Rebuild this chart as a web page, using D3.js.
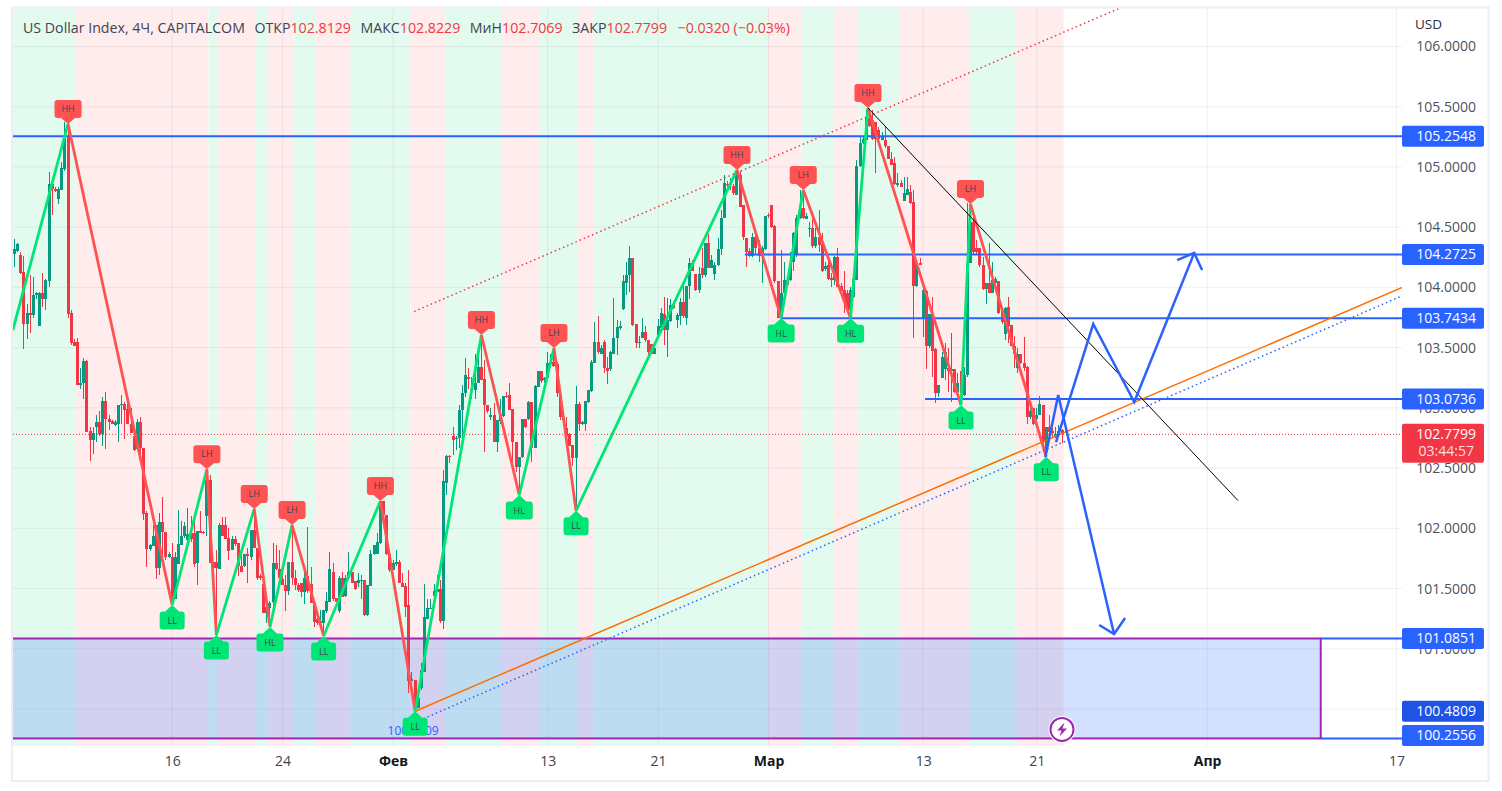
<!DOCTYPE html>
<html>
<head>
<meta charset="utf-8">
<style>
  html, body { margin: 0; background: #fff; }
  svg { display: block; }
  text { font-family: "Open Sans", sans-serif; }
</style>
<script src="https://cdn.jsdelivr.net/npm/d3@7"></script>
</head>
<body>
<div id="chart"></div>
<script>
// candles are [open, high, low, close], in bar order
const barsJanA = [
[104.28,104.40,104.17,104.32],[104.30,104.37,104.29,104.36],[104.27,104.29,104.11,104.12],[104.13,104.26,103.49,103.70],
[103.70,103.86,103.57,103.79],[103.79,104.10,103.62,103.77],[103.77,104.09,103.75,103.94],[103.94,103.96,103.90,103.95],
[103.68,103.96,103.68,103.95],[103.95,104.12,103.84,103.90],[103.90,104.07,103.81,104.06],[104.05,104.96,104.00,104.86],
[104.86,104.87,104.60,104.82],[104.82,104.83,104.79,104.80],[104.73,104.83,104.69,104.82],[104.81,105.04,104.81,104.99],
[104.98,105.37,104.97,105.24],[105.26,105.37,103.75,103.78],[103.79,103.81,103.52,103.54],[103.55,103.57,103.51,103.51],
[103.55,103.58,103.19,103.19],[103.19,103.33,103.16,103.21],[103.21,103.41,103.07,103.39],[103.39,103.40,102.80,102.80],
[102.81,102.84,102.56,102.73],[102.73,102.84,102.62,102.79],[102.84,102.94,102.72,102.88],[102.88,102.97,102.77,102.78],
[102.78,103.09,102.68,103.06],[103.06,103.13,102.66,102.91],[102.91,102.94,102.82,102.88],[102.89,102.90,102.87,102.87],
[102.86,102.90,102.85,102.88],[102.87,103.02,102.72,103.02],[103.02,103.11,102.87,103.03],[103.03,103.05,102.74,102.98],
[102.99,103.07,102.87,102.87],[102.87,103.00,102.79,102.79],[102.77,102.86,102.64,102.65],[102.66,102.91,102.64,102.88],
[102.88,102.92,102.62,102.67],[102.67,102.67,102.07,102.12]
];
const barsJanB = [
[102.13,102.14,101.68,101.83],[101.83,101.87,101.81,101.86],[101.85,102.03,101.85,101.94],[102.03,102.03,101.58,101.67],
[101.67,102.13,101.61,102.05],[102.05,102.26,101.74,101.97],[101.97,101.97,101.74,101.76],[101.76,101.80,101.75,101.79],
[101.76,101.88,101.38,101.41],[101.41,101.80,101.41,101.76],[101.70,102.15,101.70,101.87],[101.86,102.06,101.86,101.94],
[101.94,102.05,101.92,102.02],[101.90,102.17,101.89,101.95],[101.96,102.10,101.89,101.91],[101.96,102.13,101.68,101.70],
[101.71,101.98,101.53,101.98],[101.98,102.14,101.96,101.96],[101.97,101.98,101.95,101.96],[102.10,102.48,101.94,102.40],
[102.40,102.44,101.71,101.71],[101.72,101.72,101.67,101.67],[101.72,101.82,101.11,101.67],[101.66,102.04,101.66,102.03],
[102.03,102.09,101.94,101.94],[102.03,102.09,101.91,101.91],[101.92,102.00,101.74,101.81],[101.82,101.94,101.82,101.91],
[101.91,101.94,101.85,101.87],[101.88,101.88,101.60,101.69],[101.69,101.84,101.64,101.64],[101.69,101.79,101.68,101.79],
[101.79,101.84,101.55,101.77],[101.76,101.99,101.74,101.99],[101.99,102.17,101.84,101.84],[101.84,101.84,101.57,101.59],
[101.60,101.62,101.57,101.59],[101.54,101.54,101.30,101.30],[101.30,101.43,101.21,101.35],[101.34,101.40,101.18,101.38],
[101.39,101.88,101.30,101.71],[101.71,101.86,101.65,101.66],[101.66,101.82,101.59,101.59]
];
const barsJanC = [
[101.58,101.68,101.53,101.53],[101.53,101.61,101.31,101.48],[101.48,101.72,101.45,101.72],[101.72,102.03,101.53,101.59],
[101.59,101.65,101.49,101.53],[101.53,101.55,101.47,101.49],[101.55,101.55,101.43,101.47],[101.47,101.64,101.37,101.59],
[101.60,102.01,101.46,101.48],[101.54,101.68,101.38,101.38],[101.38,101.38,101.18,101.22],[101.25,101.27,101.20,101.21],
[101.21,101.32,101.20,101.23],[101.21,101.32,101.11,101.32],[101.31,101.47,101.30,101.40],[101.39,101.80,101.39,101.66],
[101.64,101.71,101.40,101.41],[101.42,101.42,101.39,101.39],[101.31,101.60,101.30,101.59],[101.59,101.64,101.43,101.43],
[101.44,101.61,101.43,101.59],[101.59,101.80,101.59,101.64],[101.64,101.64,101.55,101.55],[101.56,101.56,101.49,101.50],
[101.55,101.63,101.51,101.57],[101.56,101.61,101.41,101.57],[101.57,101.57,101.27,101.28],[101.28,101.53,101.27,101.53],
[101.52,101.82,101.52,101.79],[101.79,101.86,101.78,101.86],[101.79,101.96,101.79,101.89],[101.88,102.23,101.87,102.23],
[102.23,102.23,102.11,102.11],[102.11,102.11,101.78,101.79],[101.79,101.79,101.64,101.65]
];
const barsFebA = [
[101.65,101.74,101.65,101.71],[101.70,101.82,101.69,101.72],[101.72,101.74,101.55,101.55],[101.55,101.63,101.51,101.51],
[101.52,101.55,101.26,101.35],[101.36,101.65,100.63,100.73],[100.73,100.81,100.73,100.75],[100.74,100.74,100.48,100.50],
[100.51,100.67,100.51,100.59],[100.67,100.88,100.66,100.82],[100.81,101.54,100.81,101.26],[101.25,101.41,101.25,101.34],
[101.33,101.41,101.33,101.34],[101.44,101.54,101.35,101.48],[101.47,101.61,101.47,101.50],[101.50,101.57,101.21,101.23],
[101.23,102.48,101.16,102.39],[102.38,102.61,102.28,102.60],[102.60,102.61,102.54,102.59],[102.77,102.84,102.61,102.73],
[102.74,102.77,102.65,102.75],[102.75,103.02,102.67,102.98],[102.98,103.19,102.75,103.12],[103.12,103.41,103.09,103.27],
[103.26,103.33,103.16,103.24],[103.16,103.26,103.07,103.15],[103.15,103.45,103.07,103.21],[103.21,103.45,103.21,103.34],
[103.34,103.60,103.23,103.23],[103.24,103.40,102.63,103.02],[103.02,103.02,102.96,102.97],[102.92,103.00,102.90,102.94],
[102.94,103.04,102.72,102.72],[102.72,102.90,102.63,102.90],[102.89,103.07,102.87,102.94],[102.93,103.10,102.92,103.10],
[103.10,103.13,103.08,103.09],[103.11,103.21,102.98,102.98],[102.99,102.99,102.51,102.72],[102.72,102.72,102.47,102.51],
[102.51,102.59,102.28,102.59],[102.59,102.91,102.58,102.91],[102.91,102.91,102.83,102.84],[102.91,103.06,102.90,103.05],
[103.05,103.05,102.55,102.67],[102.67,103.19,102.67,103.18],[103.17,103.31,103.17,103.31],[103.31,103.31,103.21,103.22],
[103.23,103.26,103.21,103.25]
];
const barsFebB = [
[103.25,103.46,103.24,103.37],[103.36,103.45,103.36,103.38],[103.38,103.50,103.34,103.35],[103.36,103.38,103.09,103.12],
[103.11,103.12,102.90,102.92],[102.90,102.92,102.90,102.92],[102.83,102.92,102.77,102.77],[102.78,102.79,102.68,102.68],
[102.69,102.69,102.52,102.58],[102.58,103.18,102.15,103.03],[103.03,103.05,102.81,102.87],[102.87,102.89,102.86,102.88],
[102.87,103.06,102.81,103.06],[103.05,103.15,103.04,103.15],[103.14,103.40,103.13,103.38],[103.37,103.71,103.37,103.55],
[103.55,103.76,103.45,103.46],[103.45,103.52,103.45,103.50],[103.55,103.56,103.29,103.33],[103.33,103.42,103.20,103.31],
[103.32,103.47,103.31,103.46],[103.45,103.91,103.45,103.58],[103.58,103.73,103.44,103.67],[103.66,103.72,103.65,103.68],
[103.82,104.10,103.81,104.05],[104.04,104.21,103.94,104.10],[104.10,104.34,103.96,104.24],[104.24,104.24,103.68,103.69],
[103.70,103.70,103.50,103.54],[103.54,103.60,103.50,103.55],[103.58,103.75,103.58,103.63],[103.63,103.68,103.55,103.56],
[103.56,103.56,103.42,103.46],[103.53,103.53,103.45,103.45],[103.45,103.53,103.45,103.50],[103.60,103.74,103.59,103.68],
[103.66,103.83,103.65,103.79],[103.78,103.92,103.52,103.65],[103.65,103.91,103.42,103.73],[103.72,103.90,103.71,103.85],
[103.85,103.85,103.82,103.83],[103.73,103.79,103.66,103.77],[103.76,103.91,103.69,103.88],[103.88,104.01,103.75,103.76],
[103.75,104.01,103.69,104.01],[104.01,104.24,103.90,104.20],[104.20,104.23,104.14,104.14],[104.11,104.11,103.97,103.98],
[103.98,104.17,103.95,104.11],[104.16,104.33,104.08,104.10],[104.10,104.37,104.09,104.37],[104.37,104.44,104.16,104.16],
[104.16,104.27,104.16,104.23],[104.11,104.21,104.06,104.19],[104.19,104.41,104.18,104.32],[104.32,104.64,104.27,104.58],
[104.58,104.93,104.58,104.87],[104.86,104.88,104.83,104.85],[104.85,104.91,104.81,104.87],[104.84,104.86,104.77,104.78],
[104.77,104.97,104.77,104.93],[104.93,104.97,104.67,104.67],[104.68,104.68,104.39,104.42],[104.41,104.41,104.17,104.29],
[104.30,104.33,104.25,104.26],[104.26,104.45,104.25,104.42],[104.42,104.45,104.27,104.33],[104.33,104.39,104.21,104.26],
[104.26,104.34,104.04,104.33],[104.32,104.59,104.31,104.59]
];
const barsMarA = [
[104.60,104.62,104.58,104.59],[104.68,104.68,104.49,104.50],[104.51,104.52,104.04,104.05],[104.05,104.05,103.75,103.75],
[103.75,104.31,103.75,103.95],[103.95,104.21,103.95,104.06],[104.06,104.07,104.01,104.02],[104.06,104.29,104.05,104.20],
[104.21,104.46,104.14,104.45],[104.27,104.60,104.25,104.58],[104.58,104.81,104.57,104.66],[104.66,104.81,104.57,104.58],
[104.57,104.62,104.57,104.59],[104.49,104.54,104.42,104.49],[104.49,104.62,104.33,104.34],[104.34,104.49,104.33,104.42],
[104.42,104.64,104.29,104.35],[104.36,104.45,104.13,104.14],[104.15,104.21,104.14,104.18],[104.19,104.27,104.06,104.07],
[104.08,104.12,104.00,104.06],[104.06,104.26,104.02,104.25],[104.25,104.33,104.00,104.00],[104.01,104.04,103.94,103.97],
[103.98,104.14,103.79,103.88],[103.95,103.98,103.80,103.81],[103.81,104.00,103.75,103.98],[103.92,104.13,103.91,104.07],
[104.06,105.06,104.06,105.01],[105.01,105.25,105.00,105.20],[105.20,105.25,105.19,105.23],[105.22,105.47,105.22,105.41],
[105.41,105.47,105.33,105.34],[105.39,105.47,105.22,105.23],[105.37,105.37,104.95,105.23],[105.31,105.33,105.22,105.23],
[105.22,105.29,105.22,105.25],[105.22,105.33,105.16,105.17],[105.17,105.17,105.07,105.07],[105.07,105.12,105.02,105.02],
[105.03,105.08,104.85,104.86],[104.85,104.95,104.83,104.87],[104.87,104.89,104.83,104.83],[104.72,104.92,104.72,104.78],
[104.77,104.92,104.77,104.82],[104.79,104.85,104.69,104.70],[104.71,104.81,103.58,104.01],[104.01,104.23,104.00,104.20],
[104.20,104.24,104.19,104.19]
];
const barsMarB = [
[103.74,104.02,103.59,103.98],[103.97,103.98,103.32,103.51],[103.51,103.78,103.50,103.78],[103.78,103.92,103.26,103.47],
[103.49,103.50,103.04,103.12],[103.12,103.19,103.09,103.19],[103.25,103.46,103.25,103.42],[103.32,103.54,103.23,103.46],
[103.33,103.50,103.13,103.31],[103.31,103.62,103.05,103.32],[103.32,103.32,103.12,103.13],[103.13,103.29,103.12,103.21],
[103.31,103.31,103.02,103.12],[103.11,103.34,103.10,103.27],[103.27,104.70,103.26,104.20],[104.20,104.70,104.20,104.54],
[104.54,104.62,104.28,104.29],[104.33,104.39,104.28,104.29],[104.33,104.33,104.17,104.19],[104.19,104.25,103.98,103.99],
[103.99,104.04,103.86,104.04],[104.04,104.37,103.95,103.95],[103.95,104.21,103.95,104.06],[104.04,104.09,104.03,104.07],
[104.05,104.05,103.78,103.79],[103.80,103.82,103.70,103.71],[103.61,103.84,103.56,103.83],[103.84,103.92,103.54,103.68],
[103.69,103.69,103.51,103.51],[103.51,103.60,103.33,103.45],[103.33,103.50,103.29,103.45],[103.45,103.45,103.36,103.37],
[103.37,103.59,103.31,103.33],[103.34,103.35,102.87,102.92],[102.92,103.04,102.91,102.97],[103.00,103.00,102.86,102.87],
[102.91,103.00,102.86,102.94],[102.94,103.10,102.94,103.03],[103.02,103.02,102.67,102.72],[102.63,102.84,102.59,102.84],
[102.84,102.94,102.78,102.80],[102.81,102.83,102.76,102.79],[102.76,102.84,102.75,102.78],[102.78,102.86,102.76,102.81],
[102.8129,102.8229,102.7069,102.7799]
];

// background regimes, alternating green / red between these bars
const bandEdges = [-0.5,19.5,61.5,64.5,76.5,80.5,88.5,95.5,106.5,125.5,136.5,154.5,166.5,178.5,183.5,238.5,249.5,259.5,267.5,280.5,302.5,317.5,332.5];

// zigzag pivots
const pivotBars   = [-0.5,17,50,61,64,76,81,88,98,116,127,148,160,171,178,229,243,250,265,270.5,300,303,327];
const pivotPrices = [103.646,105.357,101.363,102.49,101.114,102.16,101.18,102.027,101.106,102.227,100.4809,103.605,102.276,103.497,102.146,104.975,103.746,104.809,103.743,105.489,103.024,104.692,102.594];
const pivotLabels = ["","HH","LL","LH","LL","LH","HL","LH","LL","HH","LL","HH","HL","LH","LL","HH","HL","LH","HL","HH","LL","LH","LL"];

// horizontal levels: price and the bar where they begin
const levelPrices = [105.2548,104.2725,103.7434,103.0736];
const levelStarts = [-0.5,231.5,243,288.6];

const zoneTop = 101.0851;
const zoneBottom = 100.2556;
const zoneEndBar = 414;
const lowPrice = 100.4809;

const priceTicks = [106,105.5,105,104.5,104,103.5,103,102.5,102,101.5,101,100.5];
const timeTickBars = [50,85,120,169,204,239,288,324,378,438];
const timeTickLabels = ["16","24","Фев","13","21","Мар","13","21","Апр","17"];
const monthLabels = ["Фев","Мар","Апр"];

// drawn lines: [bar, price] vertices
const orangeTrend = [[127,100.4809],[439.8,104.0]];
const blueTrend = [[127,100.39],[439.8,103.93]];
const redChannel = [[126.7,103.80],[350.4,106.32]];
const blackTrend = [[270.5,105.49],[387.8,102.23]];
const downPath = [[326.7,102.59],[330.8,103.107],[348.5,101.122]];
const downHead = [[343.8,101.197],[348.5,101.122],[352,101.255]];
const upPath = [[330.1,102.716],[341.9,103.696],[354.9,103.048],[373.9,104.286]];
const upHead = [[368.5,104.227],[373.9,104.286],[376.4,104.144]];

const lastPrice = 102.7799;
const countdown = "03:44:57";
const headerTitle = "US Dollar Index, 4Ч, CAPITALCOM";
const headerNames = ["ОТКР","МАКС","МиН","ЗАКР"];
const headerValues = ["102.8129","102.8229","102.7069","102.7799"];
const headerChange = "−0.0320 (−0.03%)";

const svgWidth = 1502;
const svgHeight = 791;
const plot = { left: 13, right: 1402, top: 8, bottom: 746 };

const green = "#089981", red = "#f23645", blue = "#2962ff", purple = "#9c27b0";

const candles = [...barsJanA, ...barsJanB, ...barsJanC, ...barsFebA, ...barsFebB, ...barsMarA, ...barsMarB];

const x = d3.scaleLinear().domain([0, candles.length - 1]).range([14.4, 1062]);
const y = d3.scaleLinear().domain([106, 100]).range([46.5, 769.2]);

const svg = d3.select("#chart").append("svg")
  .attr("width", svgWidth)
  .attr("height", svgHeight);

svg.append("clipPath").attr("id", "plotClip").append("rect")
  .attr("x", plot.left).attr("y", plot.top)
  .attr("width", plot.right - plot.left).attr("height", plot.bottom - plot.top);

const chart = svg.append("g").attr("clip-path", "url(#plotClip)");

// regime bands
chart.selectAll("rect.band")
  .data(d3.pairs(bandEdges))
  .enter().append("rect")
  .attr("class", "band")
  .attr("x", d => x(d[0]))
  .attr("y", plot.top)
  .attr("width", d => x(d[1]) - x(d[0]))
  .attr("height", plot.bottom - plot.top)
  .attr("fill", (d, i) => i % 2 ? "#ffecec" : "#e3fbef");

// grid
chart.selectAll("line.hgrid")
  .data(priceTicks)
  .enter().append("line")
  .attr("x1", plot.left).attr("x2", plot.right)
  .attr("y1", d => y(d)).attr("y2", d => y(d))
  .attr("stroke", "#2a2e39").attr("stroke-opacity", 0.07);

chart.selectAll("line.vgrid")
  .data(timeTickBars)
  .enter().append("line")
  .attr("x1", d => x(d)).attr("x2", d => x(d))
  .attr("y1", plot.top).attr("y2", plot.bottom)
  .attr("stroke", "#2a2e39").attr("stroke-opacity", 0.07);

// support zone
chart.append("rect")
  .attr("x", x(-0.5) - 4)
  .attr("y", y(zoneTop))
  .attr("width", x(zoneEndBar) - x(-0.5) + 4)
  .attr("height", y(zoneBottom) - y(zoneTop))
  .attr("fill", blue).attr("fill-opacity", 0.2);

// last price line
chart.append("line")
  .attr("x1", plot.left).attr("x2", plot.right)
  .attr("y1", y(lastPrice)).attr("y2", y(lastPrice))
  .attr("stroke", red).attr("stroke-dasharray", "1 2");

// candles
const barWidth = Math.round(x(1) - x(0));
const candle = chart.selectAll("g.candle")
  .data(candles)
  .enter().append("g")
  .attr("class", "candle")
  .attr("fill", d => d[3] >= d[0] ? green : red)
  .attr("shape-rendering", "crispEdges");

candle.append("rect")
  .attr("x", (d, i) => Math.round(x(i) - 0.5))
  .attr("width", 1)
  .attr("y", d => y(d[1]))
  .attr("height", d => y(d[2]) - y(d[1]));

candle.append("rect")
  .attr("x", (d, i) => Math.round(x(i) - 0.5) - 1)
  .attr("width", barWidth)
  .attr("y", d => y(Math.max(d[0], d[3])))
  .attr("height", d => Math.max(1, Math.abs(y(d[0]) - y(d[3]))));

// horizontal levels sit on top of the candles
chart.selectAll("line.level")
  .data(levelPrices)
  .enter().append("line")
  .attr("x1", (d, i) => x(levelStarts[i])).attr("x2", plot.right)
  .attr("y1", d => y(d)).attr("y2", d => y(d))
  .attr("stroke", blue).attr("stroke-width", 2);

[zoneTop, zoneBottom].forEach(p => {
  chart.append("line")
    .attr("x1", x(zoneEndBar)).attr("x2", plot.right)
    .attr("y1", y(p)).attr("y2", y(p))
    .attr("stroke", blue).attr("stroke-width", 2);
});

chart.append("rect")
  .attr("x", x(-0.5) - 4)
  .attr("y", y(zoneTop))
  .attr("width", x(zoneEndBar) - x(-0.5) + 4)
  .attr("height", y(zoneBottom) - y(zoneTop))
  .attr("fill", "none").attr("stroke", purple).attr("stroke-width", 2);

// zigzag legs
const pivots = pivotBars.map((b, i) => ({ bar: b, price: pivotPrices[i], label: pivotLabels[i] }));

chart.selectAll("line.leg")
  .data(d3.pairs(pivots))
  .enter().append("line")
  .attr("x1", d => x(d[0].bar)).attr("y1", d => y(d[0].price))
  .attr("x2", d => x(d[1].bar)).attr("y2", d => y(d[1].price))
  .attr("stroke", d => d[1].price > d[0].price ? "#00e676" : "#ff5252")
  .attr("stroke-width", 2.8);

// trend lines and the hand drawn arrows
const drawLine = d3.line().x(d => x(d[0])).y(d => y(d[1]));

function addPath(points, color, width, dash) {
  chart.append("path")
    .attr("d", drawLine(points))
    .attr("fill", "none")
    .attr("stroke", color)
    .attr("stroke-width", width)
    .attr("stroke-dasharray", dash || null);
}

addPath(redChannel, red, 1.5, "1.5 3");
addPath(blueTrend, blue, 1.5, "1.5 3");
addPath(orangeTrend, "#ff6d00", 1.5);
addPath(blackTrend, "#000", 1);
addPath(downPath, blue, 2.5);
addPath(downHead, blue, 2.5);
addPath(upPath, blue, 2.5);
addPath(upHead, blue, 2.5);

// low price text, mostly hidden by the LL pin
chart.append("text")
  .attr("x", x(127) - 2)
  .attr("y", y(zoneBottom) - 3)
  .attr("text-anchor", "middle")
  .attr("font-size", 12)
  .attr("fill", blue)
  .text(lowPrice.toFixed(4));

// pins
function pinPath(w, up) {
  // tip at 0,0 - box above for highs, below for lows
  const s = up ? -1 : 1, r = 3, t = up ? 6 : 6.5, h = 18, b = w / 2;
  return `M0,0 L${-7},${s * t} L${-b + r},${s * t} Q${-b},${s * t} ${-b},${s * (t + r)}
    L${-b},${s * (t + h - r)} Q${-b},${s * (t + h)} ${-b + r},${s * (t + h)}
    L${b - r},${s * (t + h)} Q${b},${s * (t + h)} ${b},${s * (t + h - r)}
    L${b},${s * (t + r)} Q${b},${s * t} ${b - r},${s * t} L7,${s * t} Z`;
}

const pins = svg.selectAll("g.pin")
  .data(pivots.filter(d => d.label))
  .enter().append("g")
  .attr("class", "pin")
  .attr("transform", d => `translate(${x(d.bar)},${y(d.price)})`);

pins.append("path")
  .attr("d", d => pinPath(d.label === "LL" ? 25 : 27, d.label[1] === "H"))
  .attr("fill", d => d.label[1] === "H" ? "#ff5252" : "#00e676");

pins.append("text")
  .attr("y", d => d.label[1] === "H" ? -15 : 15.5)
  .attr("dy", "0.35em")
  .attr("text-anchor", "middle")
  .attr("font-size", 9)
  .attr("fill", "#3f4450")
  .text(d => d.label);

// alert icon on the zone
const bolt = svg.append("g")
  .attr("transform", `translate(${x(332)},${y(100.33)})`);
bolt.append("circle").attr("r", 13.5).attr("fill", "#fff");
bolt.append("circle").attr("r", 11.5).attr("fill", "#fff").attr("stroke", purple).attr("stroke-width", 2);
bolt.append("path")
  .attr("d", "M2.5,-7 L-5,1 L-0.5,1 L-2.5,7 L5,-1 L0.5,-1 Z")
  .attr("fill", purple);

// price axis
const yAxis = d3.axisRight(y).tickValues(priceTicks).tickFormat(d => d.toFixed(4)).tickSize(0);
const yAxisGroup = svg.append("g")
  .attr("transform", `translate(${plot.right},0)`)
  .call(yAxis);
yAxisGroup.select(".domain").remove();
yAxisGroup.selectAll("text")
  .attr("x", 74)
  .attr("text-anchor", "end")
  .attr("font-family", '"Open Sans", sans-serif')
  .attr("font-size", 14)
  .attr("fill", "#50535e");

svg.append("text")
  .attr("x", 1415).attr("y", 29)
  .attr("font-size", 13.5)
  .attr("fill", "#2a2e39")
  .text("USD");

// price labels over the axis
const labelPrices = [...levelPrices, zoneTop, lowPrice, zoneBottom];
const priceLabel = svg.selectAll("g.priceLabel")
  .data(labelPrices)
  .enter().append("g")
  .attr("class", "priceLabel")
  .attr("transform", d => `translate(${plot.right},${Math.min(y(d), plot.bottom - 10.5)})`);

priceLabel.append("rect")
  .attr("y", -10.5).attr("width", 82).attr("height", 21).attr("rx", 2)
  .attr("fill", d => d === lowPrice ? "#1e53e5" : blue);

priceLabel.append("text")
  .attr("x", 74).attr("dy", "0.35em")
  .attr("text-anchor", "end")
  .attr("font-size", 14).attr("fill", "#fff")
  .text(d => d.toFixed(4));

const lastLabel = svg.append("g")
  .attr("transform", `translate(${plot.right},${y(lastPrice)})`);
lastLabel.append("rect")
  .attr("y", -10.5).attr("width", 82).attr("height", 39).attr("rx", 2).attr("fill", red);
lastLabel.append("text")
  .attr("x", 74).attr("dy", "0.35em").attr("text-anchor", "end")
  .attr("font-size", 14).attr("fill", "#fff")
  .text(lastPrice.toFixed(4));
lastLabel.append("text")
  .attr("x", 72).attr("y", 17).attr("dy", "0.35em").attr("text-anchor", "end")
  .attr("font-size", 14).attr("fill", "#fff").attr("fill-opacity", 0.85)
  .text(countdown);

// time axis
const xAxis = d3.axisBottom(x)
  .tickValues(timeTickBars)
  .tickFormat((d, i) => timeTickLabels[i])
  .tickSize(0)
  .tickPadding(10);
const xAxisGroup = svg.append("g")
  .attr("transform", `translate(0,${plot.bottom})`)
  .call(xAxis);
xAxisGroup.select(".domain").remove();
xAxisGroup.selectAll("text")
  .attr("font-family", '"Open Sans", sans-serif')
  .attr("font-size", 14)
  .attr("font-weight", (d, i) => monthLabels.includes(timeTickLabels[i]) ? 700 : 400)
  .attr("fill", (d, i) => monthLabels.includes(timeTickLabels[i]) ? "#131722" : "#3f4350");

// legend line
const header = svg.append("text")
  .attr("x", 23).attr("y", 33)
  .attr("font-size", 14.2)
  .attr("fill", "#3f4350");
header.append("tspan").text(headerTitle);
headerNames.forEach((name, i) => {
  header.append("tspan").attr("dx", 9.5).text(name);
  header.append("tspan").attr("fill", red).text(headerValues[i]);
});
header.append("tspan").attr("dx", 10.5).attr("fill", red).text(headerChange);

// frame around the whole widget
svg.append("rect")
  .attr("x", 12).attr("y", 7.5)
  .attr("width", 1476.5).attr("height", 773.5)
  .attr("fill", "none")
  .attr("stroke", "#eceef4")
  .attr("stroke-width", 2);
</script>
</body>
</html>
